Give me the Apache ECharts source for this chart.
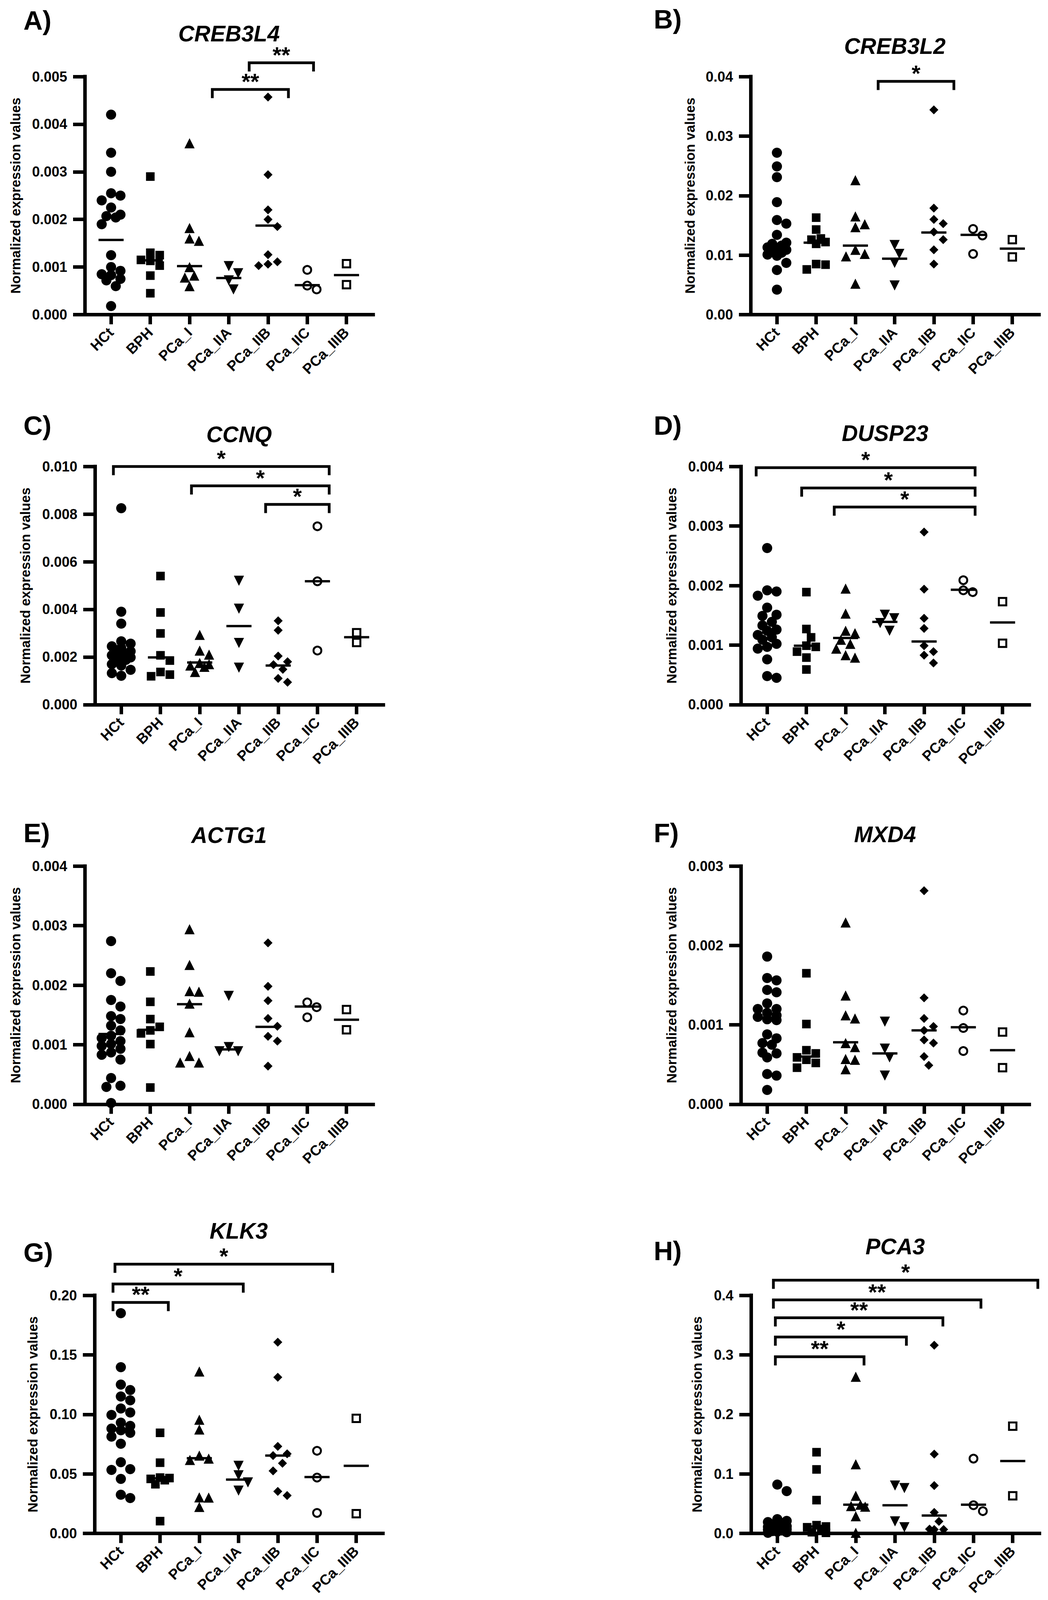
<!DOCTYPE html>
<html><head><meta charset="utf-8">
<script src="https://cdn.jsdelivr.net/npm/echarts@6/dist/echarts.min.js"></script>
<style>html,body{margin:0;padding:0;background:#fff;overflow:hidden}#c{width:2682px;height:4096px;background:#fff}</style>
</head><body><div id="c"></div>
<script>
// ---------------- DATA ----------------
const CATEGORIES = ['HCt', 'BPH', 'PCa_I', 'PCa_IIA', 'PCa_IIB', 'PCa_IIC', 'PCa_IIIB'];
const Y_AXIS_TITLE = 'Normalized expression values';

// A) CREB3L4
const A_GENE = 'CREB3L4';
const A_VALUES = [
  [0.0042, 0.0034, 0.0030, 0.00255, 0.0025, 0.0024, 0.00225, 0.0021, 0.00207, 0.00204, 0.0019, 0.00125, 0.0010, 0.00092, 0.00085, 0.00083, 0.00075, 0.00072, 0.0006, 0.00018],
  [0.0029, 0.0013, 0.00125, 0.00115, 0.00113, 0.00103, 0.00082, 0.00045],
  [0.0036, 0.00182, 0.0016, 0.00155, 0.0010, 0.00082, 0.00078, 0.0006],
  [0.00102, 0.00087, 0.00072, 0.00053],
  [0.00457, 0.00294, 0.0022, 0.0020, 0.00185, 0.00126, 0.00111, 0.00106, 0.00103],
  [0.00094, 0.00061, 0.00053],
  [0.00107, 0.00063]
];
const A_MEANS = [0.00157, 0.00114, 0.00102, 0.00077, 0.00187, 0.00062, 0.00083];
const A_Y_TICKS = ['0.000', '0.001', '0.002', '0.003', '0.004', '0.005'];
const A_BRACKETS = [[2.58, 4.52, 0.00473, '**'], [3.52, 5.16, 0.00529, '**']];

// B) CREB3L2
const B_GENE = 'CREB3L2';
const B_VALUES = [
  [0.0272, 0.0249, 0.0231, 0.0189, 0.0159, 0.0153, 0.0134, 0.0121, 0.0119, 0.0116, 0.0113, 0.0112, 0.0109, 0.0106, 0.0104, 0.0101, 0.0099, 0.0087, 0.0075, 0.0042],
  [0.0163, 0.0143, 0.0128, 0.0126, 0.0122, 0.0119, 0.0085, 0.0084, 0.0076],
  [0.0226, 0.0165, 0.0152, 0.0147, 0.0109, 0.0102, 0.0098, 0.0052],
  [0.0117, 0.0102, 0.0087, 0.0049],
  [0.0344, 0.0179, 0.0160, 0.0153, 0.0139, 0.0126, 0.0109, 0.0085],
  [0.0144, 0.0133, 0.0102],
  [0.0126, 0.0097]
];
const B_MEANS = [0.0115, 0.0121, 0.0116, 0.0094, 0.0138, 0.0134, 0.0111];
const B_Y_TICKS = ['0.00', '0.01', '0.02', '0.03', '0.04'];
const B_BRACKETS = [[2.58, 4.51, 0.0392, '*']];

// C) CCNQ
const C_GENE = 'CCNQ';
const C_VALUES = [
  [0.00825, 0.0039, 0.0034, 0.00266, 0.00256, 0.00245, 0.00238, 0.00224, 0.00218, 0.00213, 0.00207, 0.00202, 0.00198, 0.00194, 0.00188, 0.0017, 0.00164, 0.00146, 0.00132, 0.00121],
  [0.0054, 0.00387, 0.00299, 0.00207, 0.00185, 0.00137, 0.00126, 0.00119],
  [0.00293, 0.00227, 0.0021, 0.00175, 0.0017, 0.00164, 0.00159, 0.00137],
  [0.0052, 0.00403, 0.00259, 0.00155],
  [0.00352, 0.00312, 0.00204, 0.0018, 0.00168, 0.00148, 0.0011, 0.00094],
  [0.00749, 0.00518, 0.00227],
  [0.00302, 0.00261]
];
const C_MEANS = [0.00209, 0.00198, 0.00177, 0.0033, 0.00164, 0.00518, 0.00283];
const C_Y_TICKS = ['0.000', '0.002', '0.004', '0.006', '0.008', '0.010'];
const C_BRACKETS = [[-0.2, 5.3, 0.0100, '*'], [1.79, 5.3, 0.00919, '*'], [3.68, 5.3, 0.00841, '*']];

// D) DUSP23
const D_GENE = 'DUSP23';
const D_VALUES = [
  [0.00263, 0.00192, 0.0019, 0.00183, 0.00163, 0.00151, 0.00149, 0.00139, 0.00133, 0.00126, 0.00124, 0.00117, 0.00113, 0.00109, 0.00102, 0.00097, 0.00094, 0.00076, 0.00048, 0.00045],
  [0.00189, 0.00127, 0.00113, 0.00099, 0.00097, 0.00089, 0.00079, 0.00059],
  [0.00195, 0.00153, 0.00124, 0.0012, 0.00109, 0.00102, 0.00094, 0.00083, 0.00079],
  [0.00151, 0.00145, 0.00137, 0.00124],
  [0.0029, 0.00194, 0.00145, 0.00128, 0.00099, 0.00089, 0.00083, 0.0007],
  [0.00209, 0.00192, 0.00189],
  [0.00173, 0.00103]
];
const D_MEANS = [0.00121, 0.00099, 0.00112, 0.00139, 0.00106, 0.00193, 0.00138];
const D_Y_TICKS = ['0.000', '0.001', '0.002', '0.003', '0.004'];
const D_BRACKETS = [[-0.28, 5.3, 0.00398, '*'], [0.88, 5.3, 0.00364, '*'], [1.71, 5.3, 0.00332, '*']];

// E) ACTG1
const E_GENE = 'ACTG1';
const E_VALUES = [
  [0.00274, 0.0022, 0.00207, 0.00175, 0.00164, 0.00148, 0.00143, 0.00132, 0.00124, 0.00115, 0.00111, 0.00106, 0.00101, 0.00098, 0.00093, 0.00087, 0.00083, 0.00075, 0.00044, 0.00031, 0.00029, 0.00002],
  [0.00223, 0.00172, 0.00143, 0.0013, 0.00124, 0.00119, 0.00101, 0.00028],
  [0.00294, 0.00234, 0.0019, 0.00189, 0.00169, 0.00121, 0.00081, 0.0007, 0.0007],
  [0.00182, 0.00096, 0.00089, 0.00089],
  [0.00271, 0.00198, 0.00174, 0.00144, 0.00131, 0.00114, 0.00106, 0.00064],
  [0.00171, 0.00163, 0.00146],
  [0.00159, 0.00125]
];
const E_MEANS = [0.00118, 0.00125, 0.00168, 0.00092, 0.0013, 0.00164, 0.00142];
const E_Y_TICKS = ['0.000', '0.001', '0.002', '0.003', '0.004'];
const E_BRACKETS = [];

// F) MXD4
const F_GENE = 'MXD4';
const F_VALUES = [
  [0.00186, 0.00159, 0.00156, 0.00144, 0.00141, 0.00127, 0.0012, 0.0012, 0.00115, 0.00112, 0.0011, 0.00107, 0.00106, 0.00088, 0.00083, 0.00077, 0.00075, 0.00065, 0.00064, 0.00059, 0.00038, 0.00036, 0.00018],
  [0.00165, 0.00101, 0.00068, 0.00064, 0.00059, 0.00056, 0.00052, 0.00046],
  [0.00229, 0.00137, 0.00112, 0.00108, 0.00077, 0.00072, 0.00057, 0.00056, 0.00044],
  [0.00104, 0.0007, 0.00059, 0.00036],
  [0.00269, 0.00134, 0.00108, 0.00098, 0.00093, 0.00081, 0.00077, 0.0006, 0.00049],
  [0.00118, 0.00096, 0.00067],
  [0.00091, 0.00046]
];
const F_MEANS = [0.00109, 0.0006, 0.00078, 0.00064, 0.00093, 0.00097, 0.00068];
const F_Y_TICKS = ['0.000', '0.001', '0.002', '0.003'];
const F_BRACKETS = [];

// G) KLK3
const G_GENE = 'KLK3';
const G_VALUES = [
  [0.185, 0.1396, 0.125, 0.1204, 0.115, 0.1118, 0.1049, 0.1016, 0.0995, 0.093, 0.0903, 0.088, 0.0866, 0.0845, 0.0813, 0.0753, 0.0598, 0.054, 0.0533, 0.0458, 0.0325, 0.0297],
  [0.0845, 0.0594, 0.0469, 0.0465, 0.0458, 0.0447, 0.0413, 0.0103],
  [0.136, 0.0955, 0.0873, 0.0654, 0.0628, 0.0617, 0.0303, 0.0301, 0.0222],
  [0.0568, 0.0488, 0.0428, 0.0359],
  [0.1606, 0.1312, 0.0731, 0.0669, 0.0654, 0.0589, 0.0525, 0.0353, 0.0318],
  [0.0694, 0.0469, 0.0172],
  [0.0966, 0.0166]
];
const G_MEANS = [0.0877, 0.0463, 0.0632, 0.0452, 0.0654, 0.0473, 0.0568];
const G_Y_TICKS = ['0.00', '0.05', '0.10', '0.15', '0.20'];
const G_BRACKETS = [[-0.15, 5.4, 0.2262, '*'], [-0.2, 3.12, 0.2095, '*'], [-0.2, 1.21, 0.194, '**']];

// H) PCA3
const H_GENE = 'PCA3';
const H_VALUES = [
  [0.082, 0.071, 0.024, 0.021, 0.019, 0.017, 0.015, 0.013, 0.012, 0.011, 0.010, 0.009, 0.008, 0.007, 0.006, 0.005, 0.004, 0.003, 0.002, 0.001],
  [0.1364, 0.1075, 0.0559, 0.0138, 0.0116, 0.0103, 0.0073, 0.002, 0.001],
  [0.2632, 0.1161, 0.0632, 0.0482, 0.046, 0.045, 0.0288, 0.001],
  [0.0804, 0.0761, 0.0202, 0.0103],
  [0.3161, 0.1333, 0.0804, 0.0353, 0.0202, 0.0073, 0.0065, 0.0065],
  [0.1256, 0.0473, 0.0374],
  [0.1802, 0.0632]
];
const H_MEANS = [0.006, 0.0116, 0.0482, 0.0473, 0.0301, 0.0482, 0.1215];
const H_Y_TICKS = ['0.0', '0.1', '0.2', '0.3', '0.4'];
const H_BRACKETS = [[-0.1, 6.64, 0.4254, '*'], [-0.1, 5.19, 0.3923, '**'], [-0.05, 4.22, 0.3622, '**'], [-0.05, 3.29, 0.3299, '*'], [-0.05, 2.21, 0.2968, '**']];

// ---------------- LAYOUT / STYLE ----------------
// Layout is given in the reference's 2682x4973 pixel frame; the vertical frame is fitted to the viewport.
const REF_W = 2682, REF_H = 4973;
const VIEW_H = Math.min(REF_H, window.innerHeight || REF_H);
const KY = VIEW_H / REF_H;
const FS_H = 0.2 + 0.8 * KY + (1 - KY) * 0.6;   // horizontal-ish text
const FS_R = 0.55 + 0.45 * KY;                  // rotated text / markers
const FONT = '"Liberation Sans", Arial, Helvetica, sans-serif';
const XMIN = -0.67, XMAX = 6.68;
const LAYOUT = {
  A: {left: 217,  top: 238,  width: 738, height: 740, nameGap: 160, labelX: 60,   labelY: 63,   titleY: 105},
  B: {left: 1921, top: 238,  width: 738, height: 740, nameGap: 138, labelX: 1673, labelY: 60,   titleY: 143},
  C: {left: 243,  top: 1450, width: 738, height: 740, nameGap: 161, labelX: 60,   labelY: 1322, titleY: 1350},
  D: {left: 1896, top: 1450, width: 738, height: 740, nameGap: 160, labelX: 1673, labelY: 1322, titleY: 1346},
  E: {left: 217,  top: 2692, width: 738, height: 740, nameGap: 160, labelX: 60,   labelY: 2589, titleY: 2596},
  F: {left: 1896, top: 2692, width: 738, height: 740, nameGap: 160, labelX: 1673, labelY: 2589, titleY: 2593},
  G: {left: 242,  top: 4026, width: 738, height: 740, nameGap: 141, labelX: 60,   labelY: 3892, titleY: 3826},
  H: {left: 1922, top: 4026, width: 738, height: 740, nameGap: 121, labelX: 1673, labelY: 3888, titleY: 3874}
};
const SYMBOLS = [
  {symbol: 'circle',   size: 28, fill: '#000', border: 0, rotate: 0},
  {symbol: 'rect',     size: 24, fill: '#000', border: 0, rotate: 0},
  {symbol: 'triangle', size: 28, fill: '#000', border: 0, rotate: 0},
  {symbol: 'triangle', size: 28, fill: '#000', border: 0, rotate: 180},
  {symbol: 'diamond',  size: 25, fill: '#000', border: 0, rotate: 0},
  {symbol: 'circle',   size: 22, fill: '#fff', border: 5, rotate: 0},
  {symbol: 'rect',     size: 21, fill: '#fff', border: 5, rotate: 0}
];
const AXIS_W = 9, MEAN_W = 6, BRACKET_W = 7;
const BRACKET_DROP = 27 * KY, STAR_OFF = 25 * KY;

const PANELS = [
  {id: 'A', gene: A_GENE, values: A_VALUES, means: A_MEANS, ticks: A_Y_TICKS, brackets: A_BRACKETS},
  {id: 'B', gene: B_GENE, values: B_VALUES, means: B_MEANS, ticks: B_Y_TICKS, brackets: B_BRACKETS},
  {id: 'C', gene: C_GENE, values: C_VALUES, means: C_MEANS, ticks: C_Y_TICKS, brackets: C_BRACKETS},
  {id: 'D', gene: D_GENE, values: D_VALUES, means: D_MEANS, ticks: D_Y_TICKS, brackets: D_BRACKETS},
  {id: 'E', gene: E_GENE, values: E_VALUES, means: E_MEANS, ticks: E_Y_TICKS, brackets: E_BRACKETS},
  {id: 'F', gene: F_GENE, values: F_VALUES, means: F_MEANS, ticks: F_Y_TICKS, brackets: F_BRACKETS},
  {id: 'G', gene: G_GENE, values: G_VALUES, means: G_MEANS, ticks: G_Y_TICKS, brackets: G_BRACKETS},
  {id: 'H', gene: H_GENE, values: H_VALUES, means: H_MEANS, ticks: H_Y_TICKS, brackets: H_BRACKETS}
];

// beeswarm-like spreading of points that would overlap (layout only, values untouched)
function swarm(vals, center, pxY, pxX, diam, maxOff) {
  const placed = [], out = [];
  const order = vals.map((v, i) => i).sort((a, b) => vals[b] - vals[a]);
  const half = diam / 2 / pxX;
  const cands = [0];
  for (let k = 1; k * half <= maxOff + 1e-9; k++) cands.push(k * half, -k * half);
  for (const i of order) {
    const yp = vals[i] * pxY;
    let best = 0, bestScore = -1;
    for (const c of cands) {
      let minD = Infinity;
      for (const p of placed) minD = Math.min(minD, Math.hypot((c - p[0]) * pxX, yp - p[1]));
      if (minD >= diam) { best = c; bestScore = Infinity; break; }
      if (minD > bestScore) { bestScore = minD; best = c; }
    }
    placed.push([best, yp]);
    out[i] = [center + best, vals[i]];
  }
  return out;
}

const grids = [], xAxes = [], yAxes = [], series = [], graphics = [];
const catIdx = CATEGORIES.map((c, i) => i);
const fh = v => Math.round(v * FS_H);
const fr = v => Math.round(v * FS_R);

PANELS.forEach((p, gi) => {
  const L = LAYOUT[p.id];
  const top = L.top * KY, height = L.height * KY;
  const yMax = parseFloat(p.ticks[p.ticks.length - 1]);
  const yStep = parseFloat(p.ticks[1]) - parseFloat(p.ticks[0]);
  const dec = (p.ticks[1].split('.')[1] || '').length;
  grids.push({left: L.left, top: top, width: L.width, height: height, containLabel: false});
  xAxes.push({
    gridIndex: gi, type: 'value', min: XMIN, max: XMAX,
    axisLine: {show: true, onZero: false, lineStyle: {color: '#000', width: AXIS_W, cap: 'square'}},
    axisTick: {show: true, customValues: catIdx, length: 30 * KY, lineStyle: {color: '#000', width: AXIS_W}},
    axisLabel: {show: true, customValues: catIdx, formatter: v => CATEGORIES[Math.round(v)] || '',
      rotate: 45, margin: 48 * KY, color: '#000', fontSize: fr(40), fontWeight: 'bold', fontFamily: FONT},
    splitLine: {show: false}
  });
  yAxes.push({
    gridIndex: gi, type: 'value', min: 0, max: yMax, interval: yStep,
    axisLine: {show: true, onZero: false, lineStyle: {color: '#000', width: AXIS_W, cap: 'square'}},
    axisTick: {show: true, length: 30, lineStyle: {color: '#000', width: AXIS_W}},
    axisLabel: {formatter: v => v.toFixed(dec), margin: 45, color: '#000', fontSize: fh(37), fontWeight: 'bold', fontFamily: FONT},
    splitLine: {show: false},
    name: Y_AXIS_TITLE, nameLocation: 'middle', nameGap: L.nameGap,
    nameTextStyle: {color: '#000', fontSize: fr(38), fontWeight: 'bold', fontFamily: FONT}
  });
  const pxY = height / yMax, pxX = L.width / (XMAX - XMIN);
  p.values.forEach((vals, ci) => {
    const s = SYMBOLS[ci];
    series.push({
      type: 'scatter', xAxisIndex: gi, yAxisIndex: gi, silent: true, z: 2,
      data: swarm(vals, ci, pxY, pxX, fr(26), 0.33),
      symbol: s.symbol, symbolSize: fr(s.size), symbolRotate: s.rotate,
      itemStyle: {color: s.fill, borderColor: '#000', borderWidth: s.border, opacity: 1}
    });
  });
  series.push({
    type: 'custom', xAxisIndex: gi, yAxisIndex: gi, silent: true, z: 5,
    data: p.means.map((m, i) => [i, m]),
    renderItem: (params, api) => {
      const x = api.value(0), y = api.value(1);
      const a = api.coord([x - 0.32, y]), b = api.coord([x + 0.32, y]);
      return {type: 'line', shape: {x1: a[0], y1: a[1], x2: b[0], y2: b[1]}, style: {stroke: '#000', lineWidth: MEAN_W}};
    }
  });
  if (p.brackets.length) {
    const br = p.brackets;
    series.push({
      type: 'custom', xAxisIndex: gi, yAxisIndex: gi, silent: true, z: 6, clip: false,
      data: br.map(b => [b[0], b[2], b[1]]),
      encode: {x: 0, y: 1},
      renderItem: (params, api) => {
        const x1 = api.value(0), y = api.value(1), x2 = api.value(2);
        const p1 = api.coord([x1, y]), p2 = api.coord([x2, y]);
        const label = br[params.dataIndex][3];
        return {type: 'group', children: [
          {type: 'polyline', shape: {points: [[p1[0], p1[1] + BRACKET_DROP], [p1[0], p1[1]], [p2[0], p2[1]], [p2[0], p2[1] + BRACKET_DROP]]},
           style: {stroke: '#000', lineWidth: BRACKET_W, fill: null, lineJoin: 'miter'}},
          {type: 'text', x: (p1[0] + p2[0]) / 2, y: p1[1] - STAR_OFF,
           style: {text: label, fill: '#000', font: 'bold ' + fh(60) + 'px ' + FONT, align: 'center', verticalAlign: 'middle', textAlign: 'center', textVerticalAlign: 'middle'}}
        ]};
      }
    });
  }
  graphics.push({type: 'text', x: L.left + L.width / 2, y: L.titleY * KY, silent: true,
    style: {text: p.gene, fill: '#000', font: 'italic bold ' + fh(59) + 'px ' + FONT, align: 'center', verticalAlign: 'middle', textAlign: 'center', textVerticalAlign: 'middle'}});
  graphics.push({type: 'text', x: L.labelX, y: L.labelY * KY, silent: true,
    style: {text: p.id + ')', fill: '#000', font: 'bold ' + fh(71) + 'px ' + FONT, align: 'left', verticalAlign: 'middle', textAlign: 'left', textVerticalAlign: 'middle'}});
});

const dom = document.getElementById('c');
dom.style.height = VIEW_H + 'px';
const chart = echarts.init(dom, null, {renderer: 'svg', width: REF_W, height: VIEW_H});
chart.setOption({
  backgroundColor: '#fff',
  animation: false,
  grid: grids, xAxis: xAxes, yAxis: yAxes, series: series,
  graphic: graphics
});
</script></body></html>
